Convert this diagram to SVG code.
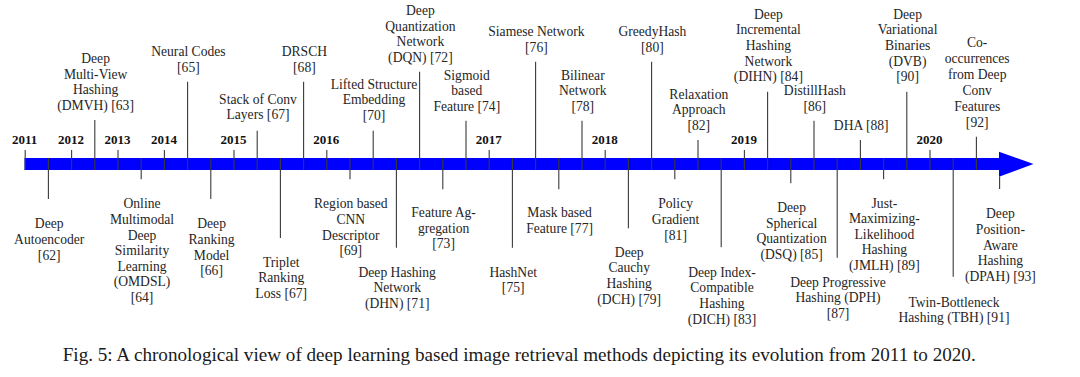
<svg xmlns="http://www.w3.org/2000/svg" width="1080" height="377" viewBox="0 0 1080 377" font-family="'Liberation Serif', 'Times New Roman', serif">
<style>
.lbl{font-family:'Liberation Serif','Times New Roman',serif;font-size:13.6px;fill:#262626;text-anchor:middle}
.yr{font-family:'Liberation Serif','Times New Roman',serif;font-size:13px;font-weight:bold;fill:#111;text-anchor:middle}
.cap{font-family:'Liberation Serif','Times New Roman',serif;font-size:19.3px;fill:#1a1a1a}
.tk{stroke:#3a3a3a;stroke-width:1.1;fill:none}
</style>
<rect width="1080" height="377" fill="#ffffff"/>
<g id="timeline">
<rect x="24.5" y="158" width="975.5" height="12" fill="#0000ff"/>
<polygon points="999,151.7 1033.5,164 999,176.7" fill="#0000ff"/>
</g>
<g id="connectors">
<path class="tk" d="M25.2,150V170 M71.6,150V170 M118,150V170 M164.4,150V170 M234,150V170 M326.8,150V170 M489.2,150V170 M605.2,150V170 M744.4,150V170 M930,150V170"/>
<path class="tk" d="M94.8,120V170 M187.6,81.7V170 M257.2,130.7V170 M303.6,81.7V170 M373.2,130.7V170 M419.6,71.7V170 M466,120.7V170 M535.6,61.7V170 M582,120.7V170 M651.6,61.7V170 M698,140V170 M767.6,91.7V170 M814,120.7V170 M860.4,140V170 M906.8,91.7V170 M976.4,136.7V170"/>
<path class="tk" d="M48.4,158V199 M141.2,158V179.3 M210.8,158V199 M280.4,158V238 M350,158V179.3 M396.4,158V247.7 M442.8,158V189.3 M512.4,158V247.7 M558.8,158V189.3 M628.4,158V228.3 M674.8,158V179.3 M721.2,158V247.3 M790.8,158V183.3 M837.2,158V257.7 M883.6,158V179.3 M953.2,158V276.7 M999.6,176.5V189"/>
</g>
<g id="years">
<text class="yr" x="24.7" y="144">2011</text>
<text class="yr" x="71.1" y="144">2012</text>
<text class="yr" x="117.5" y="144">2013</text>
<text class="yr" x="163.9" y="144">2014</text>
<text class="yr" x="233.5" y="144">2015</text>
<text class="yr" x="326.3" y="144">2016</text>
<text class="yr" x="488.7" y="144">2017</text>
<text class="yr" x="604.7" y="144">2018</text>
<text class="yr" x="743.9" y="144">2019</text>
<text class="yr" x="929.5" y="144">2020</text>
</g>
<g id="n62"><text class="lbl" y="228.3"><tspan x="49.2">Deep</tspan><tspan x="49.2" dy="15.6">Autoencoder</tspan><tspan x="49.2" dy="15.6">[62]</tspan></text></g>
<g id="n63"><text class="lbl" y="63.2"><tspan x="95.6">Deep</tspan><tspan x="95.6" dy="15.6">Multi-View</tspan><tspan x="95.6" dy="15.6">Hashing</tspan><tspan x="95.6" dy="15.6">(DMVH) [63]</tspan></text></g>
<g id="n64"><text class="lbl" y="208.3"><tspan x="142">Online</tspan><tspan x="142" dy="15.6">Multimodal</tspan><tspan x="142" dy="15.6">Deep</tspan><tspan x="142" dy="15.6">Similarity</tspan><tspan x="142" dy="15.6">Learning</tspan><tspan x="142" dy="15.6">(OMDSL)</tspan><tspan x="142" dy="15.6">[64]</tspan></text></g>
<g id="n65"><text class="lbl" y="56.3"><tspan x="188.4">Neural Codes</tspan><tspan x="188.4" dy="15.6">[65]</tspan></text></g>
<g id="n66"><text class="lbl" y="228.3"><tspan x="211.6">Deep</tspan><tspan x="211.6" dy="15.6">Ranking</tspan><tspan x="211.6" dy="15.6">Model</tspan><tspan x="211.6" dy="15.6">[66]</tspan></text></g>
<g id="n67a"><text class="lbl" y="103.7"><tspan x="258">Stack of Conv</tspan><tspan x="258" dy="15.6">Layers [67]</tspan></text></g>
<g id="n67b"><text class="lbl" y="266.7"><tspan x="281.2">Triplet</tspan><tspan x="281.2" dy="15.6">Ranking</tspan><tspan x="281.2" dy="15.6">Loss [67]</tspan></text></g>
<g id="n68"><text class="lbl" y="56.3"><tspan x="304.4">DRSCH</tspan><tspan x="304.4" dy="15.6">[68]</tspan></text></g>
<g id="n69"><text class="lbl" y="208.3"><tspan x="350.8">Region based</tspan><tspan x="350.8" dy="15.6">CNN</tspan><tspan x="350.8" dy="15.6">Descriptor</tspan><tspan x="350.8" dy="15.6">[69]</tspan></text></g>
<g id="n70"><text class="lbl" y="88.8"><tspan x="374">Lifted Structure</tspan><tspan x="374" dy="15.6">Embedding</tspan><tspan x="374" dy="15.6">[70]</tspan></text></g>
<g id="n71"><text class="lbl" y="276.7"><tspan x="397.2">Deep Hashing</tspan><tspan x="397.2" dy="15.6">Network</tspan><tspan x="397.2" dy="15.6">(DHN) [71]</tspan></text></g>
<g id="n72"><text class="lbl" y="15"><tspan x="420.4">Deep</tspan><tspan x="420.4" dy="15.6">Quantization</tspan><tspan x="420.4" dy="15.6">Network</tspan><tspan x="420.4" dy="15.6">(DQN) [72]</tspan></text></g>
<g id="n73"><text class="lbl" y="217"><tspan x="443.6">Feature Ag-</tspan><tspan x="443.6" dy="15.6">gregation</tspan><tspan x="443.6" dy="15.6">[73]</tspan></text></g>
<g id="n74"><text class="lbl" y="79.5"><tspan x="466.8">Sigmoid</tspan><tspan x="466.8" dy="15.6">based</tspan><tspan x="466.8" dy="15.6">Feature [74]</tspan></text></g>
<g id="n75"><text class="lbl" y="276.7"><tspan x="513.2">HashNet</tspan><tspan x="513.2" dy="15.6">[75]</tspan></text></g>
<g id="n76"><text class="lbl" y="36.1"><tspan x="536.4">Siamese Network</tspan><tspan x="536.4" dy="15.6">[76]</tspan></text></g>
<g id="n77"><text class="lbl" y="217"><tspan x="559.6">Mask based</tspan><tspan x="559.6" dy="15.6">Feature [77]</tspan></text></g>
<g id="n78"><text class="lbl" y="79.5"><tspan x="582.8">Bilinear</tspan><tspan x="582.8" dy="15.6">Network</tspan><tspan x="582.8" dy="15.6">[78]</tspan></text></g>
<g id="n79"><text class="lbl" y="256.7"><tspan x="629.2">Deep</tspan><tspan x="629.2" dy="15.6">Cauchy</tspan><tspan x="629.2" dy="15.6">Hashing</tspan><tspan x="629.2" dy="15.6">(DCH) [79]</tspan></text></g>
<g id="n80"><text class="lbl" y="36.1"><tspan x="652.4">GreedyHash</tspan><tspan x="652.4" dy="15.6">[80]</tspan></text></g>
<g id="n81"><text class="lbl" y="208.3"><tspan x="675.6">Policy</tspan><tspan x="675.6" dy="15.6">Gradient</tspan><tspan x="675.6" dy="15.6">[81]</tspan></text></g>
<g id="n82"><text class="lbl" y="98.8"><tspan x="698.8">Relaxation</tspan><tspan x="698.8" dy="15.6">Approach</tspan><tspan x="698.8" dy="15.6">[82]</tspan></text></g>
<g id="n83"><text class="lbl" y="276.7"><tspan x="722">Deep Index-</tspan><tspan x="722" dy="15.6">Compatible</tspan><tspan x="722" dy="15.6">Hashing</tspan><tspan x="722" dy="15.6">(DICH) [83]</tspan></text></g>
<g id="n84"><text class="lbl" y="18.8"><tspan x="768.4">Deep</tspan><tspan x="768.4" dy="15.6">Incremental</tspan><tspan x="768.4" dy="15.6">Hashing</tspan><tspan x="768.4" dy="15.6">Network</tspan><tspan x="768.4" dy="15.6">(DIHN) [84]</tspan></text></g>
<g id="n85"><text class="lbl" y="212"><tspan x="791.6">Deep</tspan><tspan x="791.6" dy="15.6">Spherical</tspan><tspan x="791.6" dy="15.6">Quantization</tspan><tspan x="791.6" dy="15.6">(DSQ) [85]</tspan></text></g>
<g id="n86"><text class="lbl" y="95.3"><tspan x="814.8">DistillHash</tspan><tspan x="814.8" dy="15.6">[86]</tspan></text></g>
<g id="n87"><text class="lbl" y="286.7"><tspan x="838">Deep Progressive</tspan><tspan x="838" dy="15.6">Hashing (DPH)</tspan><tspan x="838" dy="15.6">[87]</tspan></text></g>
<g id="n88"><text class="lbl" y="130.3"><tspan x="861.2">DHA [88]</tspan></text></g>
<g id="n89"><text class="lbl" y="207.5"><tspan x="884.4">Just-</tspan><tspan x="884.4" dy="15.6">Maximizing-</tspan><tspan x="884.4" dy="15.6">Likelihood</tspan><tspan x="884.4" dy="15.6">Hashing</tspan><tspan x="884.4" dy="15.6">(JMLH) [89]</tspan></text></g>
<g id="n90"><text class="lbl" y="18.8"><tspan x="907.6">Deep</tspan><tspan x="907.6" dy="15.6">Variational</tspan><tspan x="907.6" dy="15.6">Binaries</tspan><tspan x="907.6" dy="15.6">(DVB)</tspan><tspan x="907.6" dy="15.6">[90]</tspan></text></g>
<g id="n91"><text class="lbl" y="306.5"><tspan x="954">Twin-Bottleneck</tspan><tspan x="954" dy="15.6">Hashing (TBH) [91]</tspan></text></g>
<g id="n92"><text class="lbl" y="46.7"><tspan x="977.2">Co-</tspan><tspan x="977.2" dy="16">occurrences</tspan><tspan x="977.2" dy="16">from Deep</tspan><tspan x="977.2" dy="16">Conv</tspan><tspan x="977.2" dy="16">Features</tspan><tspan x="977.2" dy="16">[92]</tspan></text></g>
<g id="n93"><text class="lbl" y="218.3"><tspan x="1000.4">Deep</tspan><tspan x="1000.4" dy="15.6">Position-</tspan><tspan x="1000.4" dy="15.6">Aware</tspan><tspan x="1000.4" dy="15.6">Hashing</tspan><tspan x="1000.4" dy="15.6">(DPAH) [93]</tspan></text></g>
<g id="caption"><text class="cap" x="62.7" y="361" textLength="913" lengthAdjust="spacingAndGlyphs">Fig. 5: A chronological view of deep learning based image retrieval methods depicting its evolution from 2011 to 2020.</text></g>
</svg>
